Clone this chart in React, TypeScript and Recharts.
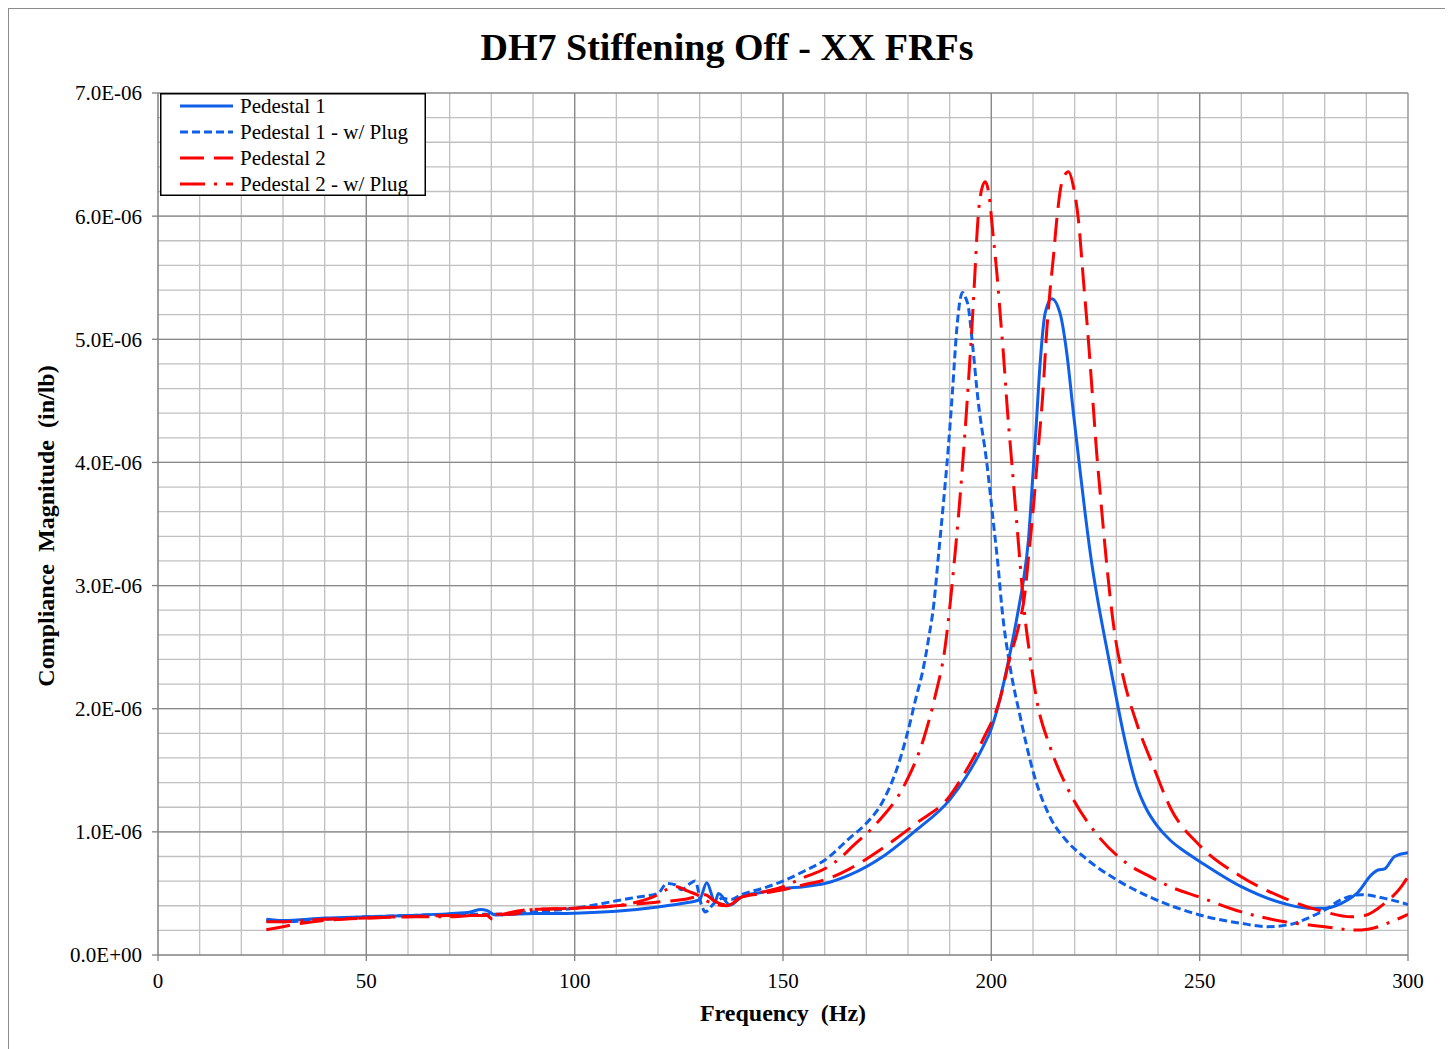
import { LineChart, Line, XAxis, YAxis, CartesianGrid, Legend, Label } from "recharts";

// Compliance magnitudes are in units of 1e-6 in/lb
const FREQ_P1 = [26, 30, 40, 50, 60, 70, 75, 77.5, 79, 81, 85, 90, 100, 110, 120, 126, 130, 131.7, 133.7, 134.5, 137.3, 140, 145, 150, 155, 160, 166, 174, 182, 190, 194, 198, 200, 202, 204, 206.9, 207.7, 208.9, 209.9, 210.7, 211.7, 212.9, 214.5, 216.5, 218.1, 219.7, 221.1, 222.5, 224.1, 225.7, 227.3, 229.3, 231.7, 234.9, 237, 240, 243, 246, 250, 260, 270, 276, 280, 284, 288, 291.2, 292.8, 294.4, 296.8, 300];
const MAG_P1 = [0.29, 0.28, 0.3, 0.31, 0.32, 0.336, 0.35, 0.37, 0.36, 0.325, 0.33, 0.336, 0.34, 0.355, 0.39, 0.42, 0.45, 0.587, 0.43, 0.5, 0.406, 0.47, 0.51, 0.54, 0.555, 0.58, 0.65, 0.8, 1.015, 1.26, 1.45, 1.69, 1.84, 2.07, 2.37, 2.88, 3.04, 3.37, 3.86, 4.26, 4.8, 5.21, 5.33, 5.21, 4.89, 4.4, 3.99, 3.59, 3.18, 2.85, 2.56, 2.21, 1.8, 1.37, 1.2, 1.04, 0.93, 0.85, 0.76, 0.555, 0.42, 0.38, 0.38, 0.42, 0.51, 0.65, 0.69, 0.7, 0.8, 0.83];

const FREQ_P1_PLUG = [26, 30, 40, 50, 60, 70, 80, 90, 100, 110, 115, 120, 122.1, 124.1, 125.7, 127.7, 128.9, 130.5, 131.3, 133.5, 135.5, 137.5, 140, 145, 150, 155, 160, 166, 170, 174, 178, 180, 182, 183.5, 185, 186.2, 187.3, 188.5, 189.7, 190.7, 191.7, 192.4, 193.1, 193.8, 194.5, 195.3, 196.9, 198.9, 200.5, 201.7, 202.5, 204.5, 206.9, 210.1, 214.1, 218, 222.1, 230.1, 238.1, 250, 260, 266.4, 272, 276, 280, 284, 288.8, 294.4, 300];
const MAG_P1_PLUG = [0.28, 0.27, 0.29, 0.31, 0.32, 0.33, 0.33, 0.35, 0.38, 0.44, 0.47, 0.5, 0.58, 0.57, 0.53, 0.58, 0.6, 0.4, 0.35, 0.42, 0.46, 0.45, 0.49, 0.54, 0.6, 0.68, 0.77, 0.95, 1.07, 1.25, 1.58, 1.82, 2.1, 2.3, 2.58, 2.85, 3.24, 3.67, 4.13, 4.59, 5.08, 5.3, 5.38, 5.34, 5.26, 5.02, 4.48, 4.0, 3.51, 3.13, 2.83, 2.34, 1.94, 1.48, 1.12, 0.93, 0.8, 0.61, 0.47, 0.325, 0.257, 0.23, 0.25, 0.3, 0.365, 0.45, 0.49, 0.46, 0.41];

const FREQ_P2 = [26, 30, 35, 40, 50, 60, 70, 78.9, 80.3, 82, 90, 100, 110, 120, 126, 130, 131.3, 133.5, 135.7, 137.5, 140, 145, 150, 155, 160, 166, 174, 182, 190, 194, 198, 202, 204.5, 206.5, 208.1, 208.9, 210.1, 211.3, 212.3, 213.3, 214.1, 214.9, 215.7, 216.9, 218.5, 219.7, 220.9, 222.1, 223.3, 224.3, 225.3, 226.2, 227.3, 228.5, 229.7, 231.7, 234.9, 238.9, 242.9, 250, 260, 270.4, 280, 286.4, 289.6, 294.4, 298.4, 300];
const MAG_P2 = [0.205, 0.23, 0.26, 0.28, 0.3, 0.31, 0.32, 0.32, 0.29, 0.32, 0.37, 0.38, 0.4, 0.43, 0.45, 0.48, 0.49, 0.44, 0.41, 0.42, 0.47, 0.5, 0.53, 0.57, 0.61, 0.7, 0.87, 1.07, 1.29, 1.5, 1.75, 2.07, 2.42, 2.66, 2.95, 3.22, 3.64, 4.13, 4.53, 5.07, 5.4, 5.67, 5.97, 6.27, 6.36, 6.24, 5.97, 5.48, 4.99, 4.53, 4.07, 3.72, 3.31, 2.91, 2.59, 2.25, 1.88, 1.53, 1.2, 0.89, 0.636, 0.46, 0.35, 0.31, 0.32, 0.42, 0.555, 0.636];

const FREQ_P2_PLUG = [26, 30, 40, 50, 60, 70, 80, 85, 90, 100, 110, 115, 120, 122, 124.5, 127, 129.3, 131.7, 134, 136.5, 140, 145, 150, 155, 160, 164.5, 166, 172.5, 179.3, 183.7, 186.5, 188.9, 190.2, 190.9, 192.1, 193.1, 194.1, 194.9, 195.5, 196.1, 196.6, 197.3, 198.5, 199.5, 200.3, 201.4, 202.3, 202.9, 203.8, 205, 206.1, 206.9, 207.8, 209.3, 210.9, 214.1, 218.5, 224.5, 232.5, 238.1, 242.9, 250, 260, 270.4, 280, 287.2, 290.4, 296, 300];
const MAG_P2_PLUG = [0.27, 0.27, 0.29, 0.3, 0.31, 0.31, 0.33, 0.33, 0.37, 0.38, 0.4, 0.43, 0.49, 0.53, 0.555, 0.52, 0.49, 0.44, 0.41, 0.4, 0.47, 0.51, 0.555, 0.63, 0.7, 0.81, 0.86, 1.07, 1.39, 1.75, 2.1, 2.5, 2.88, 3.12, 3.56, 3.98, 4.45, 4.86, 5.19, 5.56, 5.88, 6.15, 6.28, 6.16, 5.89, 5.51, 5.13, 4.88, 4.45, 3.96, 3.51, 3.18, 2.83, 2.42, 2.07, 1.69, 1.34, 1.015, 0.745, 0.636, 0.555, 0.47, 0.35, 0.27, 0.23, 0.203, 0.21, 0.27, 0.33];

const X_TICKS = [0, 50, 100, 150, 200, 250, 300];
const Y_TICKS = [0, 1, 2, 3, 4, 5, 6, 7];

const FONT = '"Liberation Serif", "Times New Roman", serif';
const BLUE = "#0f5fe8";
const RED = "#ff0000";

const zip = (f: number[], v: number[]) => f.map((x, i) => ({ f: x, v: v[i] }));

const SERIES = [
  { name: "Pedestal 1", data: zip(FREQ_P1, MAG_P1), color: BLUE, dash: undefined },
  { name: "Pedestal 1 - w/ Plug", data: zip(FREQ_P1_PLUG, MAG_P1_PLUG), color: BLUE, dash: "8 4" },
  { name: "Pedestal 2", data: zip(FREQ_P2, MAG_P2), color: RED, dash: "24 10" },
  { name: "Pedestal 2 - w/ Plug", data: zip(FREQ_P2_PLUG, MAG_P2_PLUG), color: RED, dash: "25 9 3 9" },
];

// grid: minor every 10 Hz / 0.2e-6, major every 50 Hz / 1e-6
const minorX = Array.from({ length: 29 }, (_, i) => (i + 1) * 10);
const minorY = Array.from({ length: 34 }, (_, i) => Number(((i + 1) * 0.2).toFixed(1)));
const majorX = [50, 100, 150, 200, 250, 300];
const majorY = [1, 2, 3, 4, 5, 6, 7];

const fmtY = (v: number) => (v === 0 ? "0.0E+00" : `${v.toFixed(1)}E-06`);

const LegendBox = () => (
  <svg width={266} height={103} style={{ display: "block" }}>
    <rect x={0.75} y={0.75} width={264.5} height={101.5} fill="#fff" stroke="#000" strokeWidth={1.5} />
    {SERIES.map((s, i) => (
      <g key={s.name}>
        <line x1={20} x2={73} y1={13 + i * 26} y2={13 + i * 26} stroke={s.color} strokeWidth={3} strokeDasharray={s.dash} />
        <text x={80} y={20 + i * 26} fontFamily={FONT} fontSize={21} fill="#000">
          {s.name}
        </text>
      </g>
    ))}
  </svg>
);

export default function App() {
  return (
    <div
      style={{
        position: "relative",
        width: 1436,
        height: 1040,
        border: "1px solid #8c8c8c",
        borderBottom: "none",
        background: "#fff",
        fontFamily: FONT,
      }}
    >
      <div
        style={{
          position: "absolute",
          top: 19,
          left: 0,
          width: 1436,
          textAlign: "center",
          fontSize: 38,
          lineHeight: "38px",
          fontWeight: "bold",
          color: "#000",
          zIndex: 2,
        }}
      >
        DH7 Stiffening Off - XX FRFs
      </div>
      <LineChart width={1436} height={1040} margin={{ top: 84, right: 37, left: 0, bottom: 0 }}>
        <CartesianGrid verticalValues={minorX} horizontalValues={minorY} stroke="#c0c0c0" strokeWidth={1.3} />
        <CartesianGrid verticalValues={majorX} horizontalValues={majorY} stroke="#8a8a8a" strokeWidth={1.3} />
        <XAxis
          dataKey="f"
          type="number"
          domain={[0, 300]}
          ticks={X_TICKS}
          height={94}
          tickSize={6}
          tickMargin={12}
          axisLine={{ stroke: "#808080", strokeWidth: 1.5 }}
          tickLine={{ stroke: "#808080", strokeWidth: 1.3 }}
          tick={{ fill: "#000", fontSize: 21, fontFamily: FONT }}
          allowDataOverflow
        >
          <Label
            content={({ viewBox }: any) => (
              <text
                x={viewBox.x + viewBox.width / 2}
                y={viewBox.y + 66}
                textAnchor="middle"
                fontFamily={FONT}
                fontSize={24}
                fontWeight="bold"
                fill="#000"
                style={{ whiteSpace: "pre" }}
              >
                {"Frequency  (Hz)"}
              </text>
            )}
          />
        </XAxis>
        <YAxis
          type="number"
          domain={[0, 7]}
          ticks={Y_TICKS}
          width={149}
          tickSize={6}
          tickMargin={10}
          tickFormatter={fmtY}
          axisLine={{ stroke: "#808080", strokeWidth: 1.5 }}
          tickLine={{ stroke: "#808080", strokeWidth: 1.3 }}
          tick={{ fill: "#000", fontSize: 21, fontFamily: FONT }}
          allowDataOverflow
        >
          <Label
            content={({ viewBox }: any) => {
              const cx = 45;
              const cy = viewBox.y + viewBox.height / 2 + 2;
              return (
                <text
                  x={cx}
                  y={cy}
                  transform={`rotate(-90, ${cx}, ${cy})`}
                  textAnchor="middle"
                  fontFamily={FONT}
                  fontSize={24}
                  fontWeight="bold"
                  fill="#000"
                  style={{ whiteSpace: "pre" }}
                >
                  {"Compliance  Magnitude  (in/lb)"}
                </text>
              );
            }}
          />
        </YAxis>
        {SERIES.map((s) => (
          <Line
            key={s.name}
            data={s.data}
            dataKey="v"
            name={s.name}
            type="monotone"
            stroke={s.color}
            strokeWidth={3}
            strokeDasharray={s.dash}
            dot={false}
            activeDot={false}
            isAnimationActive={false}
          />
        ))}
        <Legend
          layout="vertical"
          align="center"
          verticalAlign="middle"
          wrapperStyle={{ left: 151, top: 84, width: 266, height: 103 }}
          content={() => <LegendBox />}
        />
      </LineChart>
    </div>
  );
}
